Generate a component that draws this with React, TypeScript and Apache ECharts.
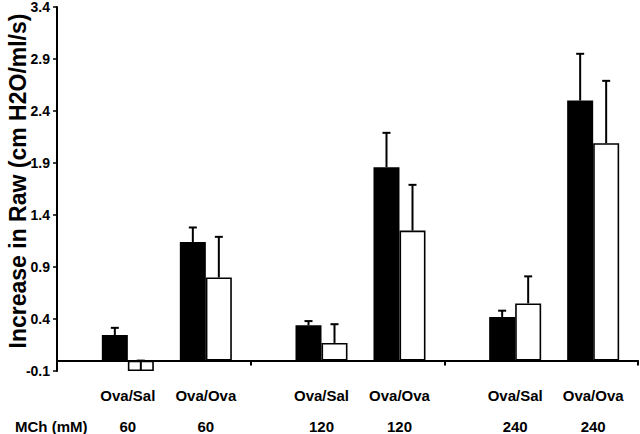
import React, { useEffect, useRef } from 'react';
import * as echarts from 'echarts';

// ---- data ----
const doses = ['60', '120', '240'];
const treatments = ['Ova/Sal', 'Ova/Ova'];
const yMin = -0.1;
const yMax = 3.4;
const yStep = 0.5;
const yTitle = 'Increase in Raw (cm H2O/ml/s)';
const xTitle = 'MCh (mM)';

const ovaSalBlack = [0.245, 0.34, 0.42];
const ovaSalBlackErr = [0.07, 0.04, 0.06];
const ovaSalWhite = [-0.1, 0.17, 0.55];
const ovaSalWhiteErr = [0.1, 0.18, 0.26];
const ovaOvaBlack = [1.14, 1.86, 2.5];
const ovaOvaBlackErr = [0.14, 0.33, 0.45];
const ovaOvaWhite = [0.8, 1.25, 2.09];
const ovaOvaWhiteErr = [0.39, 0.44, 0.6];

// ---- style ----
const FONT = 'Liberation Sans, Arial, Helvetica, sans-serif';
const BAR_W = 26;
const SLOTS = 6; // blank, black, white, blank, black, white

const slotOffset = (slot: number) => (slot - (SLOTS - 1) / 2) * BAR_W;

function buildOption() {
  const blank = (name: string) => ({
    type: 'bar',
    name,
    data: doses.map(() => '-'),
    barWidth: BAR_W,
    barGap: '0%',
    silent: true,
  });
  const bar = (name: string, data: number[], fill: string) => ({
    type: 'bar',
    name,
    data,
    barWidth: BAR_W,
    barGap: '0%',
    itemStyle: { color: fill, borderColor: '#000', borderWidth: 1.6 },
    z: 2,
  });

  const errData: number[][] = [];
  const groups = [
    { v: ovaSalBlack, e: ovaSalBlackErr, slot: 1 },
    { v: ovaSalWhite, e: ovaSalWhiteErr, slot: 2 },
    { v: ovaOvaBlack, e: ovaOvaBlackErr, slot: 4 },
    { v: ovaOvaWhite, e: ovaOvaWhiteErr, slot: 5 },
  ];
  groups.forEach((g) => {
    g.v.forEach((val, i) => errData.push([i, val, g.e[i], g.slot]));
  });

  const labelData: number[][] = [];
  doses.forEach((_, i) => treatments.forEach((__, j) => labelData.push([i, j])));

  return {
    animation: false,
    backgroundColor: '#fff',
    grid: { left: 57, right: 2, top: 7, bottom: 63, containLabel: false, outerBoundsMode: 'none' },
    xAxis: {
      type: 'category',
      data: doses,
      axisLine: { onZero: true, lineStyle: { color: '#000', width: 2 } },
      axisTick: { show: true, length: 5, interval: 0, lineStyle: { color: '#000', width: 2 } },
      axisLabel: { show: false },
      splitLine: { show: false },
    },
    yAxis: {
      type: 'value',
      min: yMin,
      max: yMax,
      interval: yStep,
      axisLine: { show: true, lineStyle: { color: '#000', width: 2 } },
      axisTick: { show: true, length: 4, lineStyle: { color: '#000', width: 1.5 } },
      axisLabel: {
        margin: 7,
        fontFamily: FONT,
        fontWeight: 'bold',
        fontSize: 14,
        lineHeight: 12,
        color: '#000',
        formatter: (v: number) => v.toFixed(1),
      },
      splitLine: { show: false },
    },
    series: [
      blank('blank1'),
      bar('Ova/Sal black', ovaSalBlack, '#000'),
      bar('Ova/Sal white', ovaSalWhite, '#fff'),
      blank('blank2'),
      bar('Ova/Ova black', ovaOvaBlack, '#000'),
      bar('Ova/Ova white', ovaOvaWhite, '#fff'),
      {
        type: 'custom',
        name: 'errors',
        data: errData,
        z: 5,
        silent: true,
        renderItem: (_params: any, api: any) => {
          const cat = api.value(0);
          const v = api.value(1);
          const e = api.value(2);
          const slot = api.value(3);
          const base = api.coord([cat, v]);
          const top = api.coord([cat, v + e]);
          const x = base[0] + slotOffset(slot);
          const st = { stroke: '#000', lineWidth: 2 };
          return {
            type: 'group',
            children: [
              { type: 'line', shape: { x1: x, y1: base[1], x2: x, y2: top[1] }, style: st },
              { type: 'line', shape: { x1: x - 4, y1: top[1], x2: x + 4, y2: top[1] }, style: st },
            ],
          };
        },
      },
      {
        type: 'custom',
        name: 'labels',
        data: labelData,
        z: 5,
        silent: true,
        clip: false,
        renderItem: (_params: any, api: any) => {
          const i = api.value(0);
          const j = api.value(1);
          const p = api.coord([i, yMin]);
          const x = p[0] + (j === 0 ? -BAR_W : 2 * BAR_W);
          const ts = {
            fontFamily: FONT,
            fontWeight: 'bold',
            fontSize: 15,
            fill: '#000',
            align: 'center',
            verticalAlign: 'middle',
          };
          return {
            type: 'group',
            children: [
              { type: 'text', x, y: p[1] + 24, style: { ...ts, text: treatments[j] } },
              { type: 'text', x, y: p[1] + 55, style: { ...ts, text: doses[i] } },
            ],
          };
        },
      },
    ],
    graphic: [
      {
        type: 'text',
        x: 18,
        y: 181,
        rotation: Math.PI / 2,
        style: {
          text: yTitle,
          fontFamily: FONT,
          fontWeight: 'bold',
          fontSize: 23,
          fill: '#000',
          align: 'center',
          verticalAlign: 'middle',
        },
      },
      {
        type: 'text',
        x: 15,
        y: 426,
        style: {
          text: xTitle,
          fontFamily: FONT,
          fontWeight: 'bold',
          fontSize: 15,
          fill: '#000',
          verticalAlign: 'middle',
        },
      },
    ],
  };
}

export default function App() {
  const ref = useRef<HTMLDivElement>(null);
  useEffect(() => {
    const chart = echarts.init(ref.current!, null, { renderer: 'svg' });
    chart.setOption(buildOption() as any);
    return () => chart.dispose();
  }, []);
  return (
    <div
      ref={ref}
      style={{ position: 'fixed', left: 0, top: 0, width: 640, height: 434, background: '#fff' }}
    />
  );
}
